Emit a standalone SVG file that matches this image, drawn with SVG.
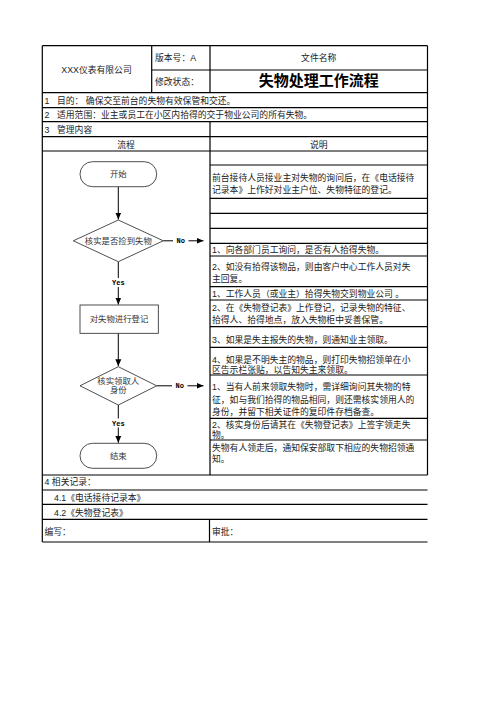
<svg xmlns="http://www.w3.org/2000/svg" width="496" height="702" viewBox="0 0 496 702">
<defs>
<style>
.g{stroke:#000;stroke-width:1.2;fill:none}
.t{font-family:"Liberation Sans","Noto Sans CJK SC",sans-serif;font-size:8.8px;fill:#222}
.c{text-anchor:middle}
.s{fill:#fff;stroke:#222;stroke-width:0.8}
.fl{font-family:"Liberation Sans","Noto Sans CJK SC",sans-serif;font-size:8.4px;fill:#333;text-anchor:middle}
.yn{font-family:"Liberation Mono",monospace;font-weight:bold;font-size:7px;fill:#000;text-anchor:middle}
.a{stroke:#000;stroke-width:1;fill:none;marker-end:url(#ah)}
</style>
<marker id="ah" markerWidth="8" markerHeight="8" refX="7" refY="4" orient="auto" markerUnits="userSpaceOnUse">
<path d="M0,1 L7,4 L0,7 Z" fill="#000"/>
</marker>
</defs>
<rect width="496" height="702" fill="#fff"/>
<g id="table">
<path class="g" d="M42.3,45.7 H427.5 M151.7,70 H427.5 M42.3,92.7 H427.5 M42.3,107.7 H427.5 M42.3,121.7 H427.5 M42.3,136.7 H427.5 M42.3,151 H427.5 M42.3,475 H427.5 M42.3,490 H427.5 M42.3,504.3 H427.5 M42.3,519.3 H427.5 M42.3,542 H427.5"/>
<path class="g" d="M210,165 H427.5 M210,198.3 H427.5 M210,213.3 H427.5 M210,228.3 H427.5 M210,243.3 H427.5 M210,256 H427.5 M210,286.7 H427.5 M210,300 H427.5 M210,326.7 H427.5 M210,347.3 H427.5 M210,375 H427.5 M210,418.3 H427.5 M210,440 H427.5"/>
<path class="g" d="M42.3,45.7 V542 M427.5,45.7 V475 M151.7,45.7 V92.7 M210,45.7 V92.7 M210,121.7 V475 M209.5,519.3 V542"/>
</g>
<g id="header">
<text class="t c" x="96.5" y="72.5" font-size="9.5">XXX仪表有限公司</text>
<text class="t" x="155" y="61">版本号：A</text>
<text class="t" x="155" y="84.5">修改状态：</text>
<text class="t c" x="318.7" y="61">文件名称</text>
<text class="t c" x="318.7" y="86" font-weight="bold" style="font-size:15px;fill:#000">失物处理工作流程</text>
<text class="t" x="44.5" y="103.5">1</text>
<text class="t" x="57" y="103.5">目的： 确保交至前台的失物有效保管和交还。</text>
<text class="t" x="44.5" y="118">2</text>
<text class="t" x="57" y="118">适用范围：业主或员工在小区内拾得的交于物业公司的所有失物。</text>
<text class="t" x="44.5" y="132.5">3</text>
<text class="t" x="57" y="132.5">管理内容</text>
<text class="t c" x="126" y="147.5">流程</text>
<text class="t c" x="318.7" y="147.5">说明</text>
</g>
<g id="notes">
<text class="t" x="212" y="180.5">前台接待人员接业主对失物的询问后，在《电话接待</text>
<text class="t" x="212" y="192.5">记录本》上作好对业主户位、失物特征的登记。</text>
<text class="t" x="212" y="252.7">1、向各部门员工询问，是否有人拾得失物。</text>
<text class="t" x="212" y="269.8">2、如没有拾得该物品，则由客户中心工作人员对失</text>
<text class="t" x="212" y="282.2">主回复。</text>
<text class="t" x="212" y="296.7">1、工作人员（或业主）拾得失物交到物业公司 。</text>
<text class="t" x="212" y="310.5">2、在《失物登记表》上作登记，记录失物的特征、</text>
<text class="t" x="212" y="323.2">拾得人、拾得地点，放入失物柜中妥善保管。</text>
<text class="t" x="212" y="342.5">3、如果是失主报失的失物，则通知业主领取。</text>
<text class="t" x="212" y="362.5">4、如果是不明失主的物品，则打印失物招领单在小</text>
<text class="t" x="212" y="373.2">区告示栏张贴，以告知失主来领取。</text>
<text class="t" x="212" y="389.9">1、当有人前来领取失物时，需详细询问其失物的特</text>
<text class="t" x="212" y="403.2">征，如与我们拾得的物品相同，则还需核实领用人的</text>
<text class="t" x="212" y="414.9">身份，并留下相关证件的复印件存档备查。</text>
<text class="t" x="212" y="428.2">2、核实身份后请其在《失物登记表》上签字领走失</text>
<text class="t" x="212" y="438.2">物。</text>
<text class="t" x="212" y="450.5">失物有人领走后，通知保安部取下相应的失物招领通</text>
<text class="t" x="212" y="461.5">知。</text>
</g>
<g id="records">
<text class="t" x="44.5" y="485">4 相关记录：</text>
<text class="t" x="54" y="500.5">4.1《电话接待记录本》</text>
<text class="t" x="54" y="515.5">4.2《失物登记表》</text>
<text class="t" x="44.5" y="535">编写：</text>
<text class="t" x="212" y="535">审批：</text>
</g>
<g id="connectors">
<path class="a" d="M118.3,186.7 V219.5"/>
<path class="a" d="M163.3,240.8 H173 M188.5,240.8 H203.5"/>
<text class="yn" x="180.8" y="243.3">No</text>
<path class="a" d="M118.3,261.7 V278 M118.3,287 V304.5"/>
<text class="yn" x="118.3" y="285">Yes</text>
<path class="a" d="M118.3,333.3 V366.2"/>
<path class="a" d="M156.7,385.8 H172 M187.5,385.8 H203.5"/>
<text class="yn" x="179.8" y="388.3">No</text>
<path class="a" d="M118.3,405 V418.5 M118.3,427.5 V442.8"/>
<text class="yn" x="118.3" y="425.5">Yes</text>
</g>
<g id="start">
<rect class="s" x="80" y="161.7" width="76.7" height="25" rx="12.5"/>
<text class="fl" x="118.3" y="177.2">开始</text>
</g>
<g id="check-found">
<polygon class="s" points="118.3,220 163.3,240.8 118.3,261.7 73.3,240.8"/>
<text class="fl" x="118.3" y="243.8">核实是否捡到失物</text>
</g>
<g id="register">
<rect class="s" x="80" y="305" width="78.3" height="28.3"/>
<text class="fl" x="119" y="322.3">对失物进行登记</text>
</g>
<g id="check-id">
<polygon class="s" points="118.3,366.7 156.7,385.8 118.3,405 80,385.8"/>
<text class="fl" x="118.3" y="383.5">核实领取人</text>
<text class="fl" x="118.3" y="392.8">身份</text>
</g>
<g id="end">
<rect class="s" x="80" y="443.3" width="76.7" height="25" rx="12.5"/>
<text class="fl" x="118.3" y="458.7">结束</text>
</g>
</svg>
